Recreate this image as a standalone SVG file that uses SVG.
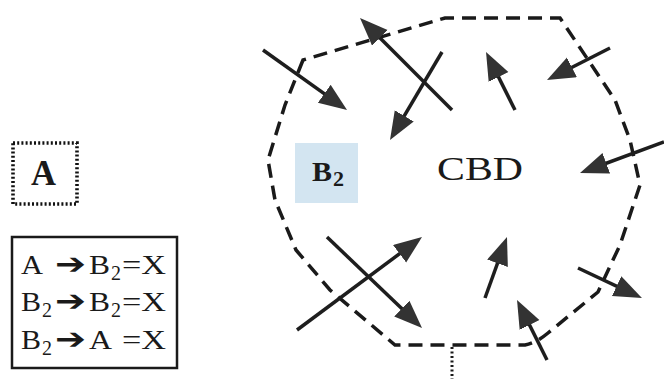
<svg xmlns="http://www.w3.org/2000/svg" width="664" height="379" viewBox="0 0 664 379">
<style>
.serif{font-family:"Liberation Serif","Times New Roman",serif;fill:#1a1a1a}
.sub{font-size:21px}
.ar{font-family:"DejaVu Sans",sans-serif;font-size:29px}
.arr{stroke:#1e1e1e;stroke-width:3.5;fill:none;marker-end:url(#head)}
.bound{stroke:#1a1a1a;stroke-width:3.5;fill:none;stroke-dasharray:14 8}
</style>
<defs>
<marker id="head" markerUnits="userSpaceOnUse" markerWidth="30" markerHeight="24" refX="18" refY="11" orient="auto">
<path d="M0,0 L28,11 L0,22 Z" fill="#333"/>
</marker>
</defs>
<g id="cbd-boundary">
<path class="bound" d="M303,60 L285,105 L268,160 L275,200 L296,250 L330,290 L395,345 L525,345 Q536,343 548,333 L598,292 L620,245 L640,185 L630,140 L615,100 L560,18 L445,18 Z"/>
<path d="M452,347 L452,379" stroke="#1a1a1a" stroke-width="3" stroke-dasharray="2 2.5" fill="none"/>
</g>
<g id="node-A">
<rect x="13" y="143" width="64" height="61" fill="none" stroke="#111" stroke-width="3.6" stroke-dasharray="2 2.2"/>
<text class="serif" x="31" y="185" font-size="36" font-weight="bold" textLength="25" lengthAdjust="spacingAndGlyphs">A</text>
</g>
<g id="node-B2">
<rect x="295" y="143" width="63" height="60" fill="#d3e5f1"/>
<text class="serif" font-size="28" font-weight="bold" y="181"><tspan x="312" textLength="20" lengthAdjust="spacingAndGlyphs">B</tspan><tspan x="333" font-size="21" dy="5" textLength="11" lengthAdjust="spacingAndGlyphs">2</tspan></text>
</g>
<g id="node-CBD">
<text class="serif" x="437" y="180" font-size="33" textLength="86" lengthAdjust="spacingAndGlyphs">CBD</text>
</g>
<g id="legend">
<rect x="12" y="237" width="165" height="131" fill="#fff" stroke="#1a1a1a" stroke-width="2.5"/>
<text class="serif" font-size="28" y="274"><tspan x="21" textLength="22" lengthAdjust="spacingAndGlyphs">A</tspan><tspan x="55" class="ar" textLength="31" lengthAdjust="spacingAndGlyphs">➔</tspan><tspan x="89" textLength="21" lengthAdjust="spacingAndGlyphs">B</tspan><tspan x="111" class="sub" dy="6" textLength="10" lengthAdjust="spacingAndGlyphs">2</tspan><tspan x="122" dy="-6" textLength="44" lengthAdjust="spacingAndGlyphs">=X</tspan></text>
<text class="serif" font-size="28" y="311"><tspan x="21" textLength="20" lengthAdjust="spacingAndGlyphs">B</tspan><tspan x="42" class="sub" dy="6" textLength="10" lengthAdjust="spacingAndGlyphs">2</tspan><tspan x="55" dy="-6" class="ar" textLength="31" lengthAdjust="spacingAndGlyphs">➔</tspan><tspan x="89" textLength="21" lengthAdjust="spacingAndGlyphs">B</tspan><tspan x="111" class="sub" dy="6" textLength="10" lengthAdjust="spacingAndGlyphs">2</tspan><tspan x="122" dy="-6" textLength="44" lengthAdjust="spacingAndGlyphs">=X</tspan></text>
<text class="serif" font-size="28" y="349"><tspan x="21" textLength="20" lengthAdjust="spacingAndGlyphs">B</tspan><tspan x="42" class="sub" dy="6" textLength="10" lengthAdjust="spacingAndGlyphs">2</tspan><tspan x="55" dy="-6" class="ar" textLength="31" lengthAdjust="spacingAndGlyphs">➔</tspan><tspan x="89" textLength="23" lengthAdjust="spacingAndGlyphs">A</tspan><tspan x="122" textLength="44" lengthAdjust="spacingAndGlyphs">=X</tspan></text>
</g>
<g id="connectors">
<line class="arr" x1="263" y1="50" x2="338.9" y2="104.2"/>
<line class="arr" x1="452" y1="110" x2="367.1" y2="25.1"/>
<line class="arr" x1="442" y1="52" x2="395.1" y2="131.4"/>
<line class="arr" x1="515" y1="110" x2="490.5" y2="60.9"/>
<line class="arr" x1="610" y1="48" x2="555.9" y2="75.5"/>
<line class="arr" x1="664" y1="142" x2="589.4" y2="169.5"/>
<line class="arr" x1="327" y1="237" x2="414.8" y2="321.1"/>
<line class="arr" x1="297" y1="330" x2="414" y2="243"/>
<line class="arr" x1="485" y1="298" x2="503.6" y2="246.4"/>
<line class="arr" x1="547" y1="360" x2="521.5" y2="308.9"/>
<line class="arr" x1="578" y1="268" x2="632.9" y2="293.8"/>
</g>
</svg>
